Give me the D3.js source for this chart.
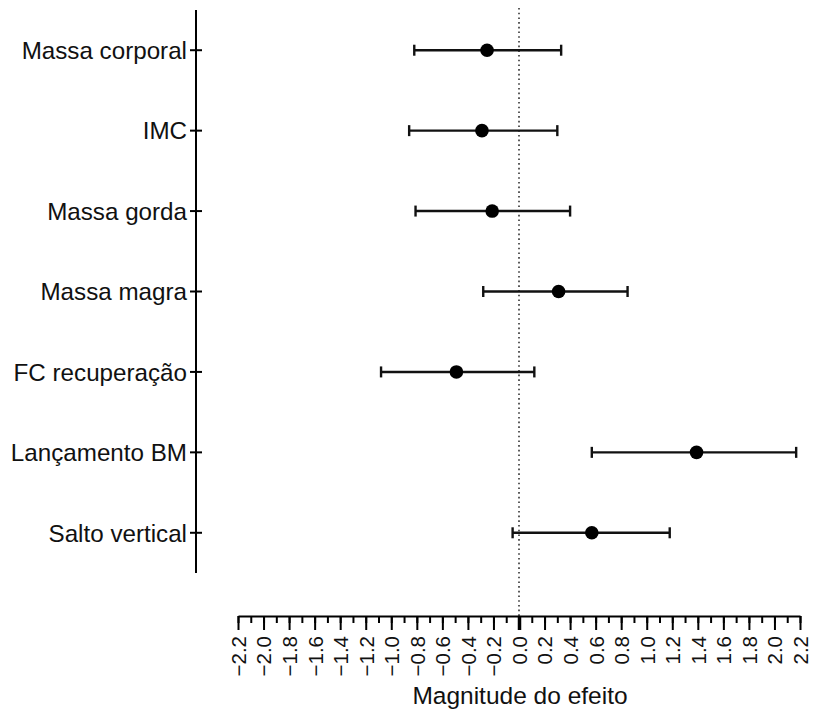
<!DOCTYPE html>
<html>
<head>
<meta charset="utf-8">
<script src="https://cdn.jsdelivr.net/npm/d3@7/dist/d3.min.js"></script>
<style>
  html, body { margin: 0; padding: 0; background: #fff; }
  svg { display: block; font-family: "Liberation Sans", Arial, sans-serif; }
</style>
</head>
<body>
<svg id="chart" width="813" height="711"></svg>
<script>
// Outcome names, effect sizes and confidence limits
const categories = ["Massa corporal", "IMC", "Massa gorda", "Massa magra", "FC recuperação", "Lançamento BM", "Salto vertical"];
const effect = [-0.25, -0.29, -0.21, 0.31, -0.49, 1.39, 0.57];
const ciLow  = [-0.82, -0.86, -0.81, -0.28, -1.08, 0.57, -0.05];
const ciHigh = [0.33, 0.30, 0.40, 0.85, 0.12, 2.17, 1.18];
const majorTicks = d3.range(-22, 23, 2).map(v => v / 10);
const minorTicks = d3.range(-22, 23, 1).map(v => v / 10);
const xTitle = "Magnitude do efeito";

const svg = d3.select("#chart");

const x = d3.scaleLinear().domain([-2.2, 2.2]).range([238, 800]);
const y = d3.scalePoint().domain(categories).range([10, 573]).padding(0.5);

const axisX = 196;   // position of the vertical axis
const axisY = 616;   // position of the horizontal axis

// Reference line at zero effect
svg.append("line")
  .attr("x1", x(0)).attr("x2", x(0))
  .attr("y1", 8).attr("y2", axisY)
  .attr("stroke", "#333").attr("stroke-width", 1.6)
  .attr("stroke-dasharray", "1.6,3.1");

// Vertical category axis
const gy = svg.append("g").attr("transform", `translate(${axisX},0)`);
gy.append("line").attr("x1", 0).attr("x2", 0).attr("y1", 10).attr("y2", 573)
  .attr("stroke", "#000").attr("stroke-width", 2);
const yTicks = gy.selectAll("g.tick").data(categories).join("g")
  .attr("class", "tick")
  .attr("transform", d => `translate(0,${y(d)})`);
yTicks.append("line").attr("x1", -6).attr("x2", 6)
  .attr("stroke", "#000").attr("stroke-width", 2);
yTicks.append("text")
  .attr("x", -9).attr("dy", "0.36em")
  .attr("text-anchor", "end")
  .attr("font-size", 24.2)
  .attr("fill", "#111")
  .text(d => d);

// Horizontal axis: minor ticks every 0.1, labelled major ticks every 0.2
const gxMinor = svg.append("g").attr("transform", `translate(0,${axisY})`)
  .call(d3.axisBottom(x).tickValues(minorTicks).tickSize(7).tickSizeOuter(0).tickFormat(""));
gxMinor.select(".domain").attr("stroke-width", 2.2);
gxMinor.selectAll(".tick line").attr("stroke-width", 2);

const gxMajor = svg.append("g").attr("transform", `translate(0,${axisY})`)
  .call(d3.axisBottom(x).tickValues(majorTicks).tickSize(14).tickSizeOuter(0).tickFormat(d3.format(".1f")));
gxMajor.select(".domain").remove();
gxMajor.selectAll(".tick line")
  .attr("stroke-width", d => d === 0 ? 3.5 : 2);
gxMajor.selectAll(".tick text")
  .attr("font-size", 20.5)
  .attr("fill", "#111")
  .attr("text-anchor", "end")
  .attr("transform", "rotate(-90)")
  .attr("x", -20)
  .attr("y", 0)
  .attr("dy", "0.36em");

svg.append("text")
  .attr("x", x(0) + 1).attr("y", 704)
  .attr("text-anchor", "middle")
  .attr("font-size", 24.5)
  .attr("fill", "#111")
  .text(xTitle);

// Error bars with end caps, and point estimates
const rows = categories.map((c, i) => ({ c, m: effect[i], lo: ciLow[i], hi: ciHigh[i] }));
const g = svg.append("g").selectAll("g").data(rows).join("g")
  .attr("transform", d => `translate(0,${y(d.c)})`);
g.append("line")
  .attr("x1", d => x(d.lo)).attr("x2", d => x(d.hi))
  .attr("stroke", "#111").attr("stroke-width", 2.4);
g.append("line")
  .attr("x1", d => x(d.lo)).attr("x2", d => x(d.lo))
  .attr("y1", -5.5).attr("y2", 5.5)
  .attr("stroke", "#111").attr("stroke-width", 2.4);
g.append("line")
  .attr("x1", d => x(d.hi)).attr("x2", d => x(d.hi))
  .attr("y1", -5.5).attr("y2", 5.5)
  .attr("stroke", "#111").attr("stroke-width", 2.4);
g.append("circle")
  .attr("cx", d => x(d.m)).attr("r", 6.8)
  .attr("fill", "#000");
</script>
</body>
</html>
